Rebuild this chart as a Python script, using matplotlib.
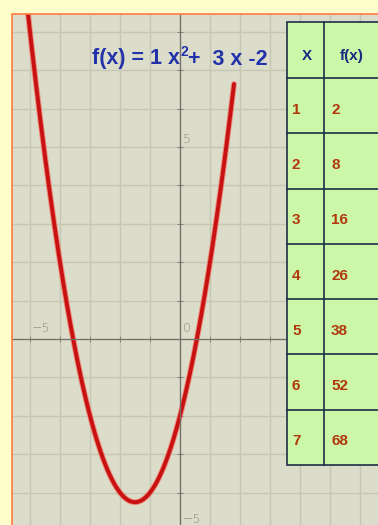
import numpy as np
import matplotlib.pyplot as plt
from matplotlib.patches import Rectangle
from matplotlib.ticker import MultipleLocator, NullFormatter

# f(x) = a x^2 + b x + c
coef_a, coef_b, coef_c = 1, 3, -2
x_start, x_end = -5.7, 1.8

# value table shown at the right
tab_x = [1, 2, 3, 4, 5, 6, 7]
tab_fx = [2, 8, 16, 26, 38, 52, 68]

W, H = 378, 525
NARROW = dict(fontfamily='Liberation Sans', fontweight='bold')

fig = plt.figure(figsize=(W/100, H/100), dpi=100)
fig.patch.set_facecolor('#FFFFCC')

# graph paper area
ax = fig.add_axes([12/W, 0, (W-12)/W, (H-14)/H])
ax.set_facecolor('#DCDCCB')
ax.set_xlim(-5.6, 6.6)
ax.set_ylim(-4.844, 8.464)
ax.xaxis.set_minor_locator(MultipleLocator(1))
ax.yaxis.set_minor_locator(MultipleLocator(1))
ax.xaxis.set_major_locator(MultipleLocator(5))
ax.yaxis.set_major_locator(MultipleLocator(5))
ax.grid(which='both', color='#C6C6B3', lw=1.0)
ax.set_axisbelow(True)
for s in ['top', 'right']:
    ax.spines[s].set_visible(False)
ax.spines['left'].set_position(('data', 0))
ax.spines['bottom'].set_position(('data', 0))
ax.spines['left'].set_color('#707068')
ax.spines['bottom'].set_color('#707068')
ax.spines['left'].set_linewidth(0.9)
ax.spines['bottom'].set_linewidth(0.9)
ax.tick_params(which='both', direction='inout', length=4, width=0.7, colors='#808078')
ax.xaxis.set_major_formatter(NullFormatter())
ax.yaxis.set_major_formatter(NullFormatter())

lab = dict(color='#8A8A80', fontsize=9, fontfamily='DejaVu Sans', fontweight='light')
ax.text(-5 + 0.05, 0.12, '\u22125', ha='left', va='bottom', **lab)
ax.text(0.1, 0.12, '0', ha='left', va='bottom', **lab)
ax.text(0.1, 5 + 0.05, '5', ha='left', va='bottom', **lab)
ax.text(0.1, -5 + 0.15, '\u22125', ha='left', va='bottom', **lab)

xs = np.linspace(x_start, x_end, 300)
ys = coef_a * xs**2 + coef_b * xs + coef_c
ax.plot(xs, ys, color='#F07A6A', lw=4.2, solid_capstyle='round', alpha=0.8)
ax.plot(xs, ys, color='#C81212', lw=2.8, solid_capstyle='round')

# overlay in pixel coordinates for border, title and table
ov = fig.add_axes([0, 0, 1, 1])
ov.set_xlim(0, W)
ov.set_ylim(H, 0)
ov.axis('off')
ov.plot([12, 12, W], [H, 14, 14], color='#FF7A40', lw=1.2)

# title: f(x) = 1 x^2 + 3 x -2, superscript placed by hand
ttl = dict(color='#2233AA', **NARROW)
t1 = ov.text(92, 64, 'f(x) = 1 x', ha='left', va='baseline', fontsize=15.5, **ttl)
t2 = ov.annotate('2', xy=(1, 0), xycoords=t1, xytext=(0.3, 9), textcoords='offset points',
                 ha='left', va='baseline', fontsize=10, **ttl)
ov.annotate('+  3 x -2', xy=(1, 0), xycoords=(t2, t1), xytext=(0.3, 3.0),
            textcoords='offset points', ha='left', va='baseline', fontsize=15.5, **ttl)

tl, tr, tt = 287, W + 5, 22
rows = np.linspace(78, 465, len(tab_x) + 1)
col = 324
edge = '#1E2E48'
ov.add_patch(Rectangle((tl, tt), tr - tl, rows[-1] - tt, facecolor='#CCF7A8',
                       edgecolor=edge, lw=1.2))
ov.plot([col, col], [tt, rows[-1]], color=edge, lw=1.2)
for r in rows[:-1]:
    ov.plot([tl, tr], [r, r], color=edge, lw=1.2)

hdr = dict(color='#1A2A80', fontsize=11, va='center', **NARROW)
ov.text(307, 56, 'X', ha='center', **hdr)
ov.text(352, 56, 'f(x)', ha='center', **hdr)
val = dict(color='#B0380C', fontsize=11, va='center', **NARROW)
for i, (xv, fv) in enumerate(zip(tab_x, tab_fx)):
    yc = (rows[i] + rows[i + 1]) / 2 + 4
    ov.text(292, yc, str(xv), ha='left', **val)
    ov.text(331, yc, str(fv), ha='left', **val)

fig.savefig('out.png', dpi=100)
